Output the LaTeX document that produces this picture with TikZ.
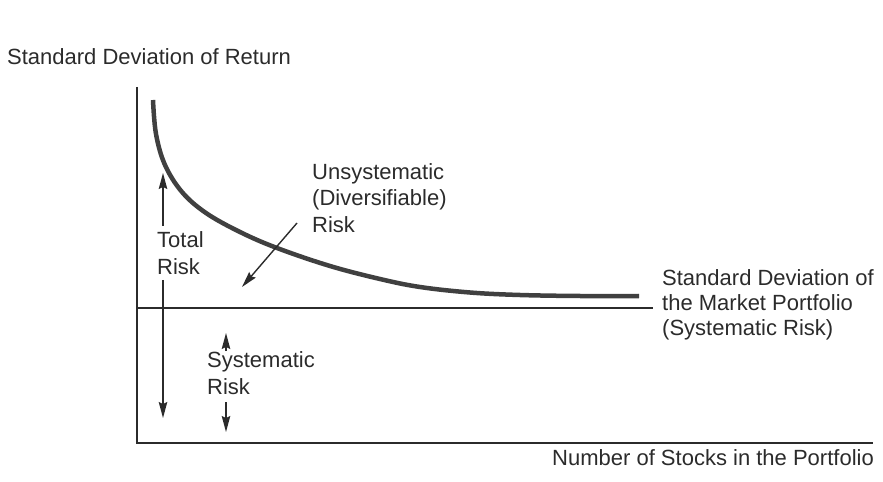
\documentclass[tikz,border=0pt]{standalone}
\usepackage{fontspec}
\setmainfont{Liberation Sans}
\usetikzlibrary{arrows.meta}
\definecolor{ink}{HTML}{2B2B2B}
\tikzset{
  lbl/.style={anchor=base west, inner sep=0pt, text=ink, font=\fontsize{22bp}{26bp}\selectfont},
  axisline/.style={draw=ink, line width=1.4bp},
  riskarrow/.style={draw=ink, line width=1.4bp, -{Stealth[length=16bp,width=8.5bp,inset=2bp]}},
  curveline/.style={draw=ink!90, line width=4.5bp, line cap=butt}
}
\begin{document}
\begin{tikzpicture}[x=1bp,y=-1bp]
\useasboundingbox (0,0) rectangle (883,482);
% axes
\coordinate (o) at (137,443);
\coordinate (ytop) at (137,87);
\coordinate (xend) at (873,443);
\draw[axisline] (ytop) -- (o) -- (xend);
% market line
\coordinate (m0) at (137,308);
\coordinate (m1) at (653,308);
\draw[axisline] (m0) -- (m1);
% curve
\draw[curveline] plot[smooth, tension=0.6] coordinates {(153,100) (156,134) (165,165) (182,192) (206,213) (240,232) (277,248) (330,266) (380,279) (420,287) (470,292.5) (520,295) (580,296) (639,296)};
% texts
\node[lbl] (ylab) at (7,65) {Standard Deviation of Return};
\node[lbl] (xlab) at (552,465) {Number of Stocks in the Portfolio};
\node[lbl] (u1) at (312,180) {Unsystematic};
\node[lbl] (u2) at (312,206) {(Diversifiable)};
\node[lbl] (u3) at (312,233) {Risk};
\node[lbl] (t1) at (157,248) {Total};
\node[lbl] (t2) at (157,275) {Risk};
\node[lbl] (s1) at (207,367) {Systematic};
\node[lbl] (s2) at (207,394) {Risk};
\node[lbl] (r1) at (662,286) {Standard Deviation of};
\node[lbl] (r2) at (662,311) {the Market Portfolio};
\node[lbl] (r3) at (662,336) {(Systematic Risk)};
% arrows
\coordinate (ta0) at (163,226); \coordinate (ta1) at (163,173);
\coordinate (tb0) at (163,280); \coordinate (tb1) at (163,418);
\draw[riskarrow] (ta0) -- (ta1);
\draw[riskarrow] (tb0) -- (tb1);
\coordinate (sa0) at (226,351); \coordinate (sa1) at (226,333);
\coordinate (sb0) at (226,402); \coordinate (sb1) at (226,432);
\draw[riskarrow] (sa0) -- (sa1);
\draw[riskarrow] (sb0) -- (sb1);
\coordinate (ua0) at (297,223); \coordinate (ua1) at (242,287);
\draw[riskarrow] (ua0) -- (ua1);
\end{tikzpicture}
\end{document}
